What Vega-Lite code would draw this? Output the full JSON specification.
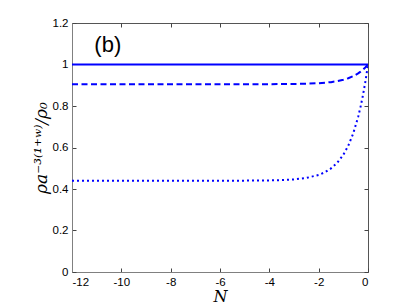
{
  "$schema": "https://vega.github.io/schema/vega-lite/v6.json",
  "autosize": "none",
  "width": 296,
  "height": 249,
  "padding": {"left": 72, "top": 23, "right": 39, "bottom": 34},
  "background": "white",
  "config": {
    "view": {"stroke": "#555", "strokeWidth": 1},
    "axis": {
      "grid": false,
      "domainColor": "#808080",
      "tickColor": "#444",
      "tickSize": -4,
      "labelFont": "Liberation Sans",
      "labelFontSize": 11.5,
      "labelColor": "black",
      "titleColor": "black"
    }
  },
  "resolve": {"axis": {"x": "independent", "y": "independent"}},
  "datasets": {
    "curves": [
      {"N": -12, "v": 1, "s": "solid"},
      {"N": 0, "v": 1, "s": "solid"},
      {"N": -12, "v": 0.905, "s": "dashed"},
      {"N": -8, "v": 0.905, "s": "dashed"},
      {"N": -5, "v": 0.9051, "s": "dashed"},
      {"N": -4, "v": 0.9052, "s": "dashed"},
      {"N": -3, "v": 0.9061, "s": "dashed"},
      {"N": -2.5, "v": 0.9072, "s": "dashed"},
      {"N": -2, "v": 0.9097, "s": "dashed"},
      {"N": -1.5, "v": 0.915, "s": "dashed"},
      {"N": -1.25, "v": 0.9196, "s": "dashed"},
      {"N": -1, "v": 0.9262, "s": "dashed"},
      {"N": -0.8, "v": 0.9336, "s": "dashed"},
      {"N": -0.6, "v": 0.9436, "s": "dashed"},
      {"N": -0.4, "v": 0.9571, "s": "dashed"},
      {"N": -0.3, "v": 0.9656, "s": "dashed"},
      {"N": -0.2, "v": 0.9754, "s": "dashed"},
      {"N": -0.1, "v": 0.9868, "s": "dashed"},
      {"N": 0, "v": 1, "s": "dashed"},
      {"N": -12, "v": 0.44, "s": "dotted"},
      {"N": -8, "v": 0.44, "s": "dotted"},
      {"N": -6, "v": 0.4401, "s": "dotted"},
      {"N": -5, "v": 0.4403, "s": "dotted"},
      {"N": -4, "v": 0.4414, "s": "dotted"},
      {"N": -3.5, "v": 0.4429, "s": "dotted"},
      {"N": -3, "v": 0.4462, "s": "dotted"},
      {"N": -2.5, "v": 0.4532, "s": "dotted"},
      {"N": -2, "v": 0.4679, "s": "dotted"},
      {"N": -1.75, "v": 0.4805, "s": "dotted"},
      {"N": -1.5, "v": 0.499, "s": "dotted"},
      {"N": -1.25, "v": 0.5259, "s": "dotted"},
      {"N": -1, "v": 0.5649, "s": "dotted"},
      {"N": -0.8, "v": 0.6087, "s": "dotted"},
      {"N": -0.6, "v": 0.6677, "s": "dotted"},
      {"N": -0.4, "v": 0.7473, "s": "dotted"},
      {"N": -0.3, "v": 0.797, "s": "dotted"},
      {"N": -0.2, "v": 0.8548, "s": "dotted"},
      {"N": -0.1, "v": 0.922, "s": "dotted"},
      {"N": 0, "v": 1, "s": "dotted"}
    ],
    "label": [{"N": -10.55, "v": 1.094, "t": "(b)"}]
  },
  "layer": [
    {
      "data": {"name": "curves"},
      "mark": {"type": "line", "strokeWidth": 2, "clip": true},
      "encoding": {
        "x": {
          "field": "N", "type": "quantitative",
          "scale": {"domain": [-12, 0], "nice": false},
          "axis": {
            "orient": "bottom",
            "values": [-12, -10, -8, -6, -4, -2, 0],
            "labelExpr": "'' + datum.value",
            "labelPadding": 8,
            "title": "N",
            "titleFont": "DejaVu Serif",
            "titleFontStyle": "italic",
            "titleFontWeight": "normal",
            "titleFontSize": 16,
            "titlePadding": 1
          }
        },
        "y": {
          "field": "v", "type": "quantitative",
          "scale": {"domain": [0, 1.2], "nice": false},
          "axis": {
            "orient": "left",
            "values": [0, 0.2, 0.4, 0.6, 0.8, 1, 1.2],
            "labelExpr": "'' + datum.value",
            "labelPadding": 8,
            "title": "ρa⁻³⁽¹⁺ʷ⁾/ρ₀",
            "titleFont": "DejaVu Serif",
            "titleFontStyle": "italic",
            "titleFontWeight": "normal",
            "titleFontSize": 17,
            "titlePadding": 2
          }
        },
        "detail": {"field": "s"},
        "strokeDash": {
          "field": "s", "type": "nominal",
          "scale": {"domain": ["solid", "dashed", "dotted"], "range": [[1, 0], [6, 3.5], [2, 3]]},
          "legend": null
        },
        "color": {"value": "#0000ff"}
      }
    },
    {
      "data": {"name": "label"},
      "mark": {"type": "text", "font": "Liberation Sans", "fontSize": 22, "color": "black", "align": "center", "baseline": "middle"},
      "encoding": {
        "x": {"field": "N", "type": "quantitative", "axis": {"orient": "top", "values": [-12, -10, -8, -6, -4, -2, 0], "labels": false, "title": null, "domain": false}},
        "y": {"field": "v", "type": "quantitative", "axis": {"orient": "right", "values": [0, 0.2, 0.4, 0.6, 0.8, 1, 1.2], "labels": false, "title": null, "domain": false}},
        "text": {"field": "t"}
      }
    }
  ]
}
